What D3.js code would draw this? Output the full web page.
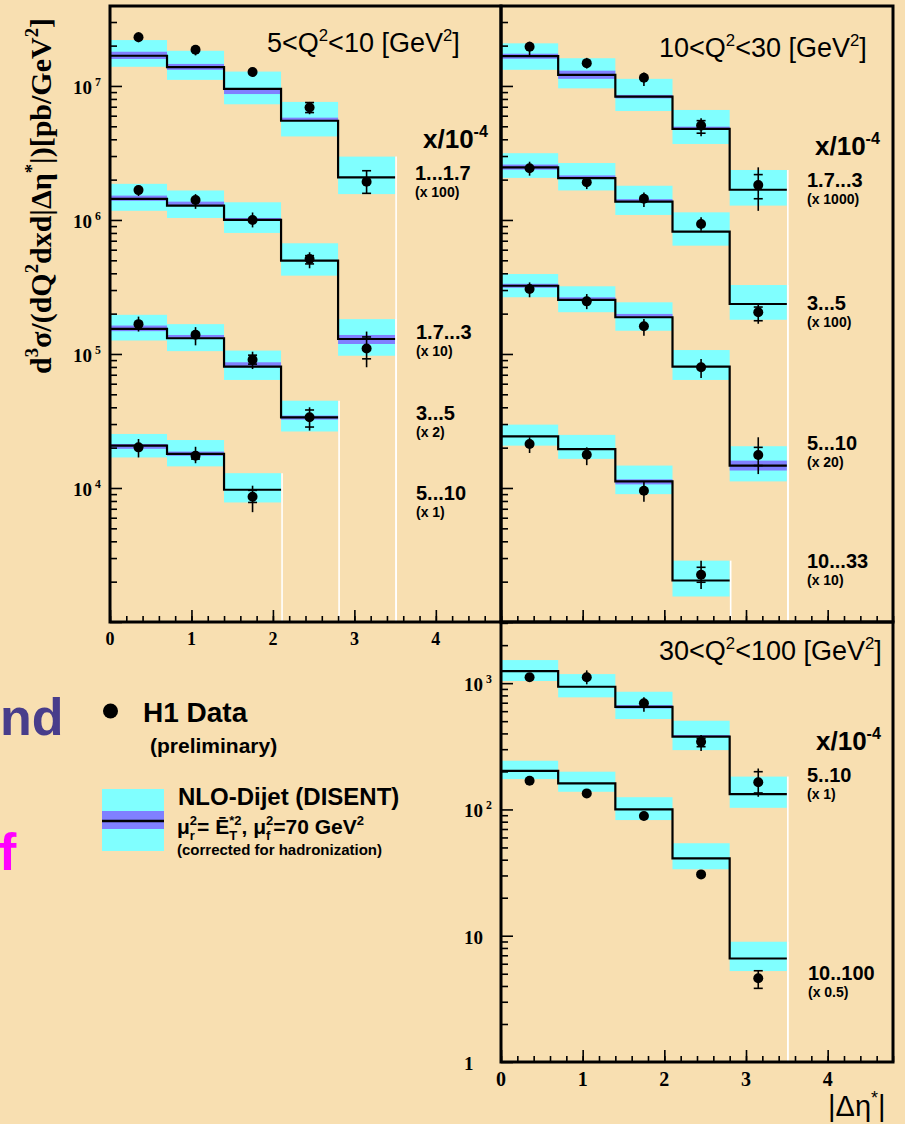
<!DOCTYPE html>
<html>
<head>
<meta charset="utf-8">
<script src="https://cdn.jsdelivr.net/npm/d3@7"></script>
<style>
  body { margin: 0; background: #f8dfb1; }
  svg { display: block; }
</style>
</head>
<body>
<svg id="chart" width="905" height="1124"></svg>
<script>
// ---- data (values are already multiplied by the factor shown) ----
const binEdges = [0, 0.7, 1.4, 2.1, 2.8, 3.5];
const etaRange = [0, 4.8];
const panelTitles = [["5<Q", "2", "<10 [GeV", "2", "]"], ["10<Q", "2", "<30 [GeV", "2", "]"], ["30<Q", "2", "<100 [GeV", "2", "]"]];
const seriesPanel = [0, 0, 0, 0, 1, 1, 1, 1, 2, 2];
const seriesRange = ["1...1.7", "1.7...3", "3...5", "5...10", "1.7...3", "3...5", "5...10", "10...33", "5..10", "10..100"];
const seriesFactor = ["(x 100)", "(x 10)", "(x 2)", "(x 1)", "(x 1000)", "(x 100)", "(x 20)", "(x 10)", "(x 1)", "(x 0.5)"];

// NLO-Dijet (DISENT) central value
const nlo = [
  [1.68e7, 1.38e7, 9.5e6, 5.5e6, 2.08e6],
  [1.435e6, 1.28e6, 1.0e6, 4.97e5, 1.294e5],
  [1.54e5, 1.31e5, 8.05e4, 3.37e4],
  [2.07e4, 1.795e4, 9.7e3],
  [1.67e7, 1.21e7, 8.32e6, 4.78e6, 1.68e6],
  [2.47e6, 2.05e6, 1.37e6, 8.18e5, 2.36e5],
  [3.23e5, 2.53e5, 1.88e5, 8.05e4, 1.47e4],
  [2.43e4, 1.95e4, 1.12e4, 2.04e3],
  [1247, 937, 650, 377, 132],
  [202, 161, 100, 41, 6.6]
];
// scale uncertainty band (cyan)
const nloHi = [
  [2.2e7, 1.83e7, 1.28e7, 7.6e6, 2.97e6],
  [1.86e6, 1.66e6, 1.355e6, 6.7e5, 1.82e5],
  [1.96e5, 1.67e5, 1.06e5, 4.48e4],
  [2.53e4, 2.28e4, 1.29e4],
  [2.08e7, 1.61e7, 1.13e7, 6.62e6, 2.36e6],
  [3.15e6, 2.66e6, 1.80e6, 1.14e6, 3.27e5],
  [3.95e5, 3.2e5, 2.43e5, 1.07e5, 2.05e4],
  [2.97e4, 2.49e4, 1.47e4, 2.87e3],
  [1524, 1180, 855, 504, 182],
  [243, 199, 125, 54, 8.96]
];
const nloLo = [
  [1.39e7, 1.11e7, 7.3e6, 4.2e6, 1.56e6],
  [1.17e6, 1.035e6, 8.0e5, 3.84e5, 9.7e4],
  [1.26e5, 1.05e5, 6.4e4, 2.64e4],
  [1.69e4, 1.45e4, 7.8e3],
  [1.32e7, 9.6e6, 6.5e6, 3.69e6, 1.28e6],
  [2.06e6, 1.66e6, 1.09e6, 6.43e5, 1.80e5],
  [2.65e5, 2.05e5, 1.49e5, 6.4e4, 1.12e4],
  [2.07e4, 1.65e4, 9.0e3, 1.55e3],
  [1040, 772, 520, 295, 103],
  [174, 138, 82.4, 33.6, 5.25]
];
// hadronisation correction band (purple)
const hadHi = [
  [1.80e7, 1.46e7, 9.5e6, 5.8e6, 2.08e6],
  [1.52e6, 1.37e6, 1.035e6, 4.97e5, 1.386e5],
  [1.63e5, 1.386e5, 8.67e4, 3.47e4],
  [2.13e4, 1.87e4, 9.7e3],
  [1.74e7, 1.30e7, 8.57e6, 4.97e6, 1.68e6],
  [2.59e6, 2.15e6, 1.43e6, 8.18e5, 2.36e5],
  [3.34e5, 2.65e5, 1.99e5, 8.05e4, 1.60e4],
  [2.43e4, 1.95e4, 1.16e4, 2.04e3],
  [1247, 937, 670, 388, 132],
  [202, 161, 100, 41, 6.6]
];
const hadLo = [
  [1.59e7, 1.32e7, 8.7e6, 5.5e6, 2.08e6],
  [1.39e6, 1.28e6, 1.0e6, 4.97e5, 1.187e5],
  [1.48e5, 1.31e5, 7.95e4, 3.24e4],
  [1.96e4, 1.74e4, 9.7e3],
  [1.595e7, 1.13e7, 8.08e6, 4.78e6, 1.68e6],
  [2.375e6, 2.05e6, 1.37e6, 8.18e5, 2.36e5],
  [3.12e5, 2.53e5, 1.88e5, 8.05e4, 1.35e4],
  [2.43e4, 1.95e4, 1.064e4, 2.04e3],
  [1247, 937, 631, 377, 132],
  [202, 161, 100, 41, 6.6]
];
// H1 data
const h1 = [
  [2.31e7, 1.86e7, 1.27e7, 6.9e6, 1.93e6],
  [1.67e6, 1.41e6, 1.0e6, 5.12e5, 1.10e5],
  [1.67e5, 1.39e5, 9.06e4, 3.37e4],
  [2.01e4, 1.74e4, 8.6e3],
  [1.96e7, 1.48e7, 1.15e7, 5.06e6, 1.82e6],
  [2.43e6, 1.91e6, 1.44e6, 9.33e5, 2.05e5],
  [3.05e5, 2.47e5, 1.61e5, 7.96e4, 1.76e4],
  [2.13e4, 1.77e4, 9.55e3, 2.25e3],
  [1112, 1112, 692, 344, 164],
  [169, 134, 88.7, 30.6, 4.6]
];
const h1TotHi = [
  [2.52e7, 2.0e7, 1.37e7, 7.6e6, 2.33e6],
  [1.80e6, 1.56e6, 1.137e6, 5.74e5, 1.47e5],
  [1.90e5, 1.586e5, 1.04e5, 4.0e4],
  [2.32e4, 2.03e4, 1.04e4],
  [2.14e7, 1.62e7, 1.26e7, 5.74e6, 2.47e6],
  [2.72e6, 2.08e6, 1.60e6, 1.047e6, 2.40e5],
  [3.42e5, 2.80e5, 1.82e5, 9.18e4, 2.39e4],
  [2.39e4, 2.01e4, 1.11e4, 2.87e3],
  [1174, 1263, 772, 388, 211],
  [175, 139, 92, 31.7, 5.28]
];
const h1TotLo = [
  [2.12e7, 1.69e7, 1.17e7, 6.15e6, 1.58e6],
  [1.51e6, 1.21e6, 8.8e5, 4.36e5, 7.96e4],
  [1.47e5, 1.16e5, 7.72e4, 2.68e4],
  [1.69e4, 1.53e4, 6.6e3],
  [1.70e7, 1.35e7, 1.0e7, 4.21e6, 1.17e6],
  [2.14e6, 1.70e6, 1.25e6, 8.32e5, 1.68e5],
  [2.65e5, 2.16e5, 1.37e5, 6.63e4, 1.27e4],
  [1.825e4, 1.48e4, 7.9e3, 1.76e3],
  [1053, 979, 593, 290, 126],
  [163, 129, 85.5, 29.5, 3.83]
];
// statistical error ends (cross marks), null where not visible
const h1StatHi = [
  [null, null, null, 7.52e6, 2.33e6],
  [null, null, null, 5.42e5, 1.34e5],
  [null, null, 9.8e4, 3.82e4],
  [null, null, 9.6e3],
  [null, null, null, 5.51e6, 2.18e6],
  [null, null, null, null, 2.24e5],
  [null, null, null, null, 2.01e4],
  [null, null, null, 2.56e3],
  [null, null, null, 366, 199],
  [null, null, null, null, 5.28]
];
const h1StatLo = [
  [null, null, null, 6.33e6, 1.58e6],
  [null, null, null, 4.70e5, 9.2e4],
  [null, null, 8.4e4, 2.85e4],
  [null, 1.645e4, 7.8e3],
  [null, null, null, 4.44e6, 1.44e6],
  [null, null, null, null, 1.77e5],
  [null, null, null, null, 1.47e4],
  [null, null, null, 1.98e3],
  [null, null, null, 314, 135],
  [null, null, null, null, 3.83]
];

// ---- layout ----
const sans = "'Liberation Sans', Arial, Helvetica, sans-serif";
const serif = "'Liberation Serif', 'Times New Roman', serif";
const cyan = "#80ffff", purple = "#8080ff";

const panels = [
  {x0: 110, x1: 501, y0: 6, y1: 622, yDom: [1e3, 3.95e7], titleX: 267, titleY: 52, xLab: [423, 148]},
  {x0: 501, x1: 893, y0: 6, y1: 622, yDom: [1e3, 3.95e7], titleX: 659, titleY: 57, xLab: [815, 155]},
  {x0: 501, x1: 893, y0: 622, y1: 1062, yDom: [1, 3050], titleX: 659, titleY: 660, xLab: [816, 750]}
];
// where the x-bin labels sit, per series [x, baseline]
const labelAt = [[415, 180], [416, 339], [416, 420], [416, 500], [807, 187], [807, 310], [807, 450], [807, 568], [807, 782], [808, 980]];

const svg = d3.select("#chart");
svg.append("rect").attr("width", 905).attr("height", 1124).attr("fill", "#f8dfb1");

panels.forEach(p => {
  p.x = d3.scaleLinear().domain(etaRange).range([p.x0, p.x1]);
  p.y = d3.scaleLog().domain(p.yDom).range([p.y1, p.y0]);
});

// text with super/subscripts: kind 0 normal, 1 sup, -1 sub, 2 sup stacked over previous sub
function rich(sel, parts, size) {
  let cur = 0, prevLen = 0;
  parts.forEach(([t, k]) => {
    const target = k === 0 ? 0 : (k === -1 ? size * 0.28 : -size * 0.42);
    const ts = sel.append("tspan").text(t)
      .attr("dy", target - cur)
      .attr("font-size", k === 0 ? size : size * 0.62);
    if (k === 2) ts.attr("dx", -prevLen);
    cur = target;
    prevLen = ts.node().getComputedTextLength();
  });
}

const sIdx = d3.range(seriesPanel.length);
const bands = svg.append("g"), purp = svg.append("g"), edges = svg.append("g"),
      steps = svg.append("g"), pts = svg.append("g");

sIdx.forEach(s => {
  const p = panels[seriesPanel[s]];
  const x = p.x, y = p.y;
  const bins = d3.range(nlo[s].length);
  const last = bins.length - 1;

  bands.selectAll(null).data(bins).join("rect")
    .attr("x", i => x(binEdges[i])).attr("width", i => x(binEdges[i + 1]) - x(binEdges[i]))
    .attr("y", i => y(nloHi[s][i])).attr("height", i => y(nloLo[s][i]) - y(nloHi[s][i]))
    .attr("fill", cyan);

  purp.selectAll(null).data(bins.filter(i => hadHi[s][i] > hadLo[s][i])).join("rect")
    .attr("x", i => x(binEdges[i])).attr("width", i => x(binEdges[i + 1]) - x(binEdges[i]))
    .attr("y", i => y(hadHi[s][i])).attr("height", i => y(hadLo[s][i]) - y(hadHi[s][i]))
    .attr("fill", purple);

  // white right edge of the last bin
  edges.append("line")
    .attr("x1", x(binEdges[last + 1]) + 1).attr("x2", x(binEdges[last + 1]) + 1)
    .attr("y1", y(nloHi[s][last])).attr("y2", p.y1)
    .attr("stroke", "#fff").attr("stroke-width", 1.6);

  const stepPts = [];
  bins.forEach(i => { stepPts.push([binEdges[i], nlo[s][i]], [binEdges[i + 1], nlo[s][i]]); });
  steps.append("path")
    .attr("d", d3.line().x(d => x(d[0])).y(d => y(d[1]))(stepPts))
    .attr("fill", "none").attr("stroke", "#000").attr("stroke-width", 2.2);

  const cx = i => x((binEdges[i] + binEdges[i + 1]) / 2);
  const g = pts.append("g");
  g.selectAll(".err").data(bins).join("line")
    .attr("x1", cx).attr("x2", cx)
    .attr("y1", i => y(h1TotHi[s][i])).attr("y2", i => y(h1TotLo[s][i]))
    .attr("stroke", "#000").attr("stroke-width", 1.6);
  const crosses = [];
  bins.forEach(i => {
    if (h1StatHi[s][i] != null) crosses.push([i, h1StatHi[s][i]]);
    if (h1StatLo[s][i] != null) crosses.push([i, h1StatLo[s][i]]);
  });
  g.selectAll(".st").data(crosses).join("line")
    .attr("x1", d => cx(d[0]) - 4.5).attr("x2", d => cx(d[0]) + 4.5)
    .attr("y1", d => y(d[1])).attr("y2", d => y(d[1]))
    .attr("stroke", "#000").attr("stroke-width", 1.6);
  g.selectAll("circle").data(bins).join("circle")
    .attr("cx", cx).attr("cy", i => y(h1[s][i])).attr("r", 5).attr("fill", "#000");

  // x-bin label
  const [lx, ly] = labelAt[s];
  svg.append("text").attr("x", lx).attr("y", ly)
    .attr("font-family", sans).attr("font-weight", "bold").attr("font-size", 20)
    .text(seriesRange[s]);
  svg.append("text").attr("x", lx).attr("y", ly + 17)
    .attr("font-family", sans).attr("font-weight", "bold").attr("font-size", 14)
    .text(seriesFactor[s]);
});

// axes, frames, titles
panels.forEach((p, k) => {
  const majors = p.y.ticks().filter(v => Math.abs(Math.log10(v) - Math.round(Math.log10(v))) < 1e-9);
  const minors = p.y.ticks().filter(v => !majors.includes(v));
  const ya = svg.append("g").attr("transform", `translate(${p.x0},0)`);
  ya.call(d3.axisRight(p.y).tickValues(minors).tickSize(7).tickFormat(""));
  ya.append("g").call(d3.axisRight(p.y).tickValues(majors).tickSize(12).tickFormat(""));
  const xa = svg.append("g").attr("transform", `translate(0,${p.y1})`);
  xa.call(d3.axisTop(p.x).tickValues(d3.range(0, 4.81, 0.2)).tickSize(6).tickFormat(""));
  xa.append("g").call(d3.axisTop(p.x).tickValues([0, 1, 2, 3, 4]).tickSize(12).tickFormat(""));
  svg.selectAll(".domain").remove();
  [ya, xa].forEach(a => a.selectAll("line").attr("stroke", "#000").attr("stroke-width", 1.6));

  svg.append("rect").attr("x", p.x0).attr("y", p.y0)
    .attr("width", p.x1 - p.x0).attr("height", p.y1 - p.y0)
    .attr("fill", "none").attr("stroke", "#000").attr("stroke-width", 3);

  const t = panelTitles[k];
  rich(svg.append("text").attr("x", p.titleX).attr("y", p.titleY)
      .attr("font-family", sans).attr("font-size", 27),
    [[t[0], 0], [t[1], 1], [t[2], 0], [t[3], 1], [t[4], 0]], 27);

  rich(svg.append("text").attr("x", p.xLab[0]).attr("y", p.xLab[1])
      .attr("font-family", sans).attr("font-weight", "bold").attr("font-size", 26),
    [["x/10", 0], ["-4", 1]], 26);

  // tick labels (panels with labelled axes)
  if (k !== 1) {
    const fs = k === 0 ? 18 : 20;
    const lbY = k === 0 ? 645 : 1086;
    svg.append("g").selectAll("text").data([0, 1, 2, 3, 4]).join("text")
      .attr("x", d => p.x(d)).attr("y", lbY).attr("text-anchor", "middle")
      .attr("font-family", serif).attr("font-weight", "bold").attr("font-size", fs)
      .text(d => d);
    majors.filter(v => p.y(v) < p.y1 - 1 || k === 2).forEach(v => {
      const e = Math.round(Math.log10(v));
      const txt = svg.append("text").attr("x", p.x0 - 37).attr("y", p.y(v) + 8)
        .attr("font-family", serif).attr("font-weight", "bold").attr("font-size", 19);
      if (e === 0) txt.text("1");
      else if (e === 1) txt.text("10");
      else rich(txt, [["10", 0], [" " + e, 1]], 19);
    });
  }
});

// axis titles
const yTitle = svg.append("text")
  .attr("transform", "translate(51,196) rotate(-90)")
  .attr("text-anchor", "middle")
  .attr("font-family", serif).attr("font-weight", "bold").attr("font-size", 30);
rich(yTitle, [["d", 0], ["3", 1], ["σ/(dQ", 0], ["2", 1], ["dxd|Δη", 0], ["*", 1], ["|)[pb/GeV", 0], ["2", 1], ["]", 0]], 30);

rich(svg.append("text").attr("x", 828).attr("y", 1116)
    .attr("font-family", sans).attr("font-size", 29),
  [["|Δη", 0], ["*", 1], ["|", 0]], 29);

// legend
const leg = svg.append("g");
leg.append("circle").attr("cx", 110.5).attr("cy", 711).attr("r", 7.5).attr("fill", "#000");
leg.append("text").attr("x", 143).attr("y", 722)
  .attr("font-family", sans).attr("font-weight", "bold").attr("font-size", 28).text("H1 Data");
leg.append("text").attr("x", 150).attr("y", 753)
  .attr("font-family", sans).attr("font-weight", "bold").attr("font-size", 21).text("(preliminary)");
leg.append("rect").attr("x", 102).attr("y", 789).attr("width", 62).attr("height", 62).attr("fill", cyan);
leg.append("rect").attr("x", 102).attr("y", 811).attr("width", 62).attr("height", 18).attr("fill", purple);
leg.append("line").attr("x1", 102).attr("x2", 164).attr("y1", 821).attr("y2", 821)
  .attr("stroke", "#000").attr("stroke-width", 2.5);
leg.append("text").attr("x", 178).attr("y", 805)
  .attr("font-family", sans).attr("font-weight", "bold").attr("font-size", 24).text("NLO-Dijet (DISENT)");
rich(leg.append("text").attr("x", 177).attr("y", 834)
    .attr("font-family", sans).attr("font-weight", "bold").attr("font-size", 21),
  [["μ", 0], ["r", -1], ["2", 2], ["= Ē", 0], ["T", -1], ["*2", 2], [", μ", 0], ["f", -1], ["2", 2], ["=70 GeV", 0], ["2", 1]], 21);
leg.append("text").attr("x", 177).attr("y", 855)
  .attr("font-family", sans).attr("font-weight", "bold").attr("font-size", 15).text("(corrected for hadronization)");

// cut-off slide text at the left edge
svg.append("text").attr("x", 0).attr("y", 735)
  .attr("font-family", sans).attr("font-weight", "bold").attr("font-size", 52)
  .attr("fill", "#483d8b").text("nd");
svg.append("text").attr("x", -1).attr("y", 870)
  .attr("font-family", sans).attr("font-weight", "bold").attr("font-size", 52)
  .attr("fill", "#ff00ff").text("f");
</script>
</body>
</html>
